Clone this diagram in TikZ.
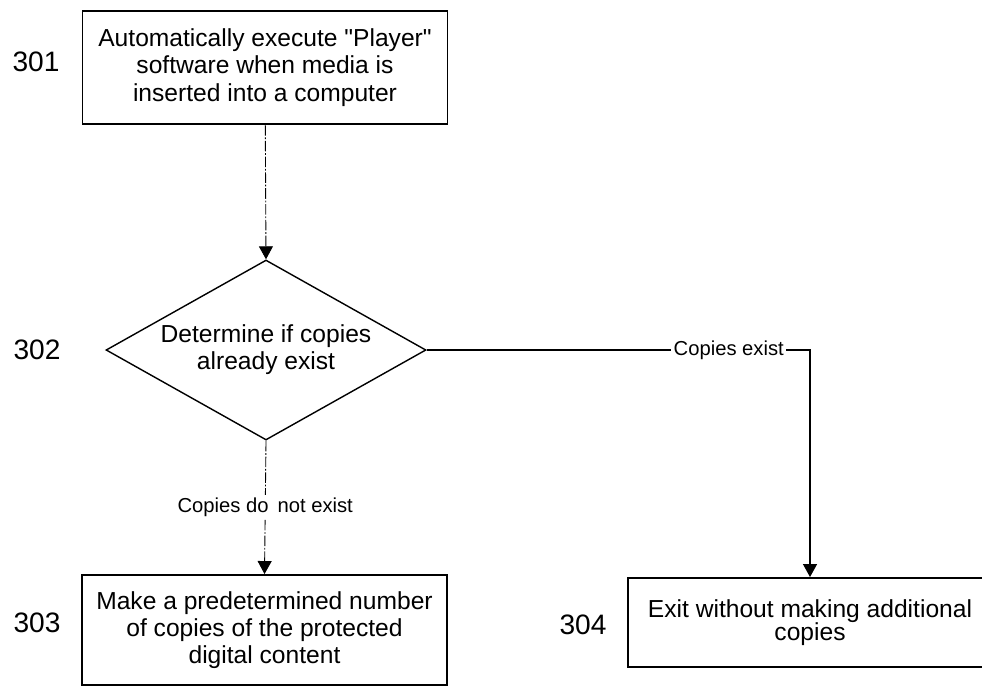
\documentclass[tikz,border=0pt]{standalone}
\usepackage{fontspec}
\setmainfont{Liberation Sans}[Ligatures=TeXOff]
\usepackage{tikz}
\usetikzlibrary{shapes.geometric, arrows.meta, positioning, calc}

\begin{document}
\begin{tikzpicture}[
    stepbox/.style={draw, line width=1.1pt, minimum width=7.3cm, minimum height=2.2cm,
                    align=center, font=\fontsize{14}{15.5}\selectfont, inner sep=2pt},
    decision/.style={draw, diamond, line width=0.8pt, minimum width=6.4cm,
                     minimum height=3.6cm, inner sep=0pt},
    num/.style={font=\fontsize{16}{18}\selectfont},
    lbl/.style={fill=white, font=\fontsize{11.5}{13}\selectfont, inner sep=1.5pt},
    arr/.style={-{Triangle[length=0.26cm, width=0.28cm]}, line width=0.7pt},
    faint/.style={dash pattern=on 6pt off 1pt on 1pt off 1pt, line width=0.5pt},
]
    \useasboundingbox (0,0) rectangle (19.64,-13.76);

    \node[stepbox, minimum height=2.26cm] (run) at (5.3,-1.35)
        {Automatically execute "Player"\\software when media is\\inserted into a computer};
    \node[decision] (chk) at (5.32,-7.0) {};
    \node[align=center, font=\fontsize{14}{15.5}\selectfont] (chktxt) at (chk.center)
        {Determine if copies\\already exist};
    \node[stepbox] (make) at (5.29,-12.6)
        {Make a predetermined number\\of copies of the protected\\digital content};
    \node[stepbox, minimum width=7.28cm, minimum height=1.78cm,
          font=\fontsize{14}{13.5}\selectfont] (exit) at (16.2,-12.45)
        {Exit without making additional\\copies};

    % step numbers
    \node[num] (n301) at (0.72,-1.24)  {301};
    \node[num] (n302) at (0.74,-7.0)   {302};
    \node[num] (n303) at (0.74,-12.46) {303};
    \node[num] (n304) at (11.66,-12.5) {304};

    \draw[arr, faint] (run) -- (chk.north);
    \draw[arr, faint] (chk.south) -- node[lbl] {Copies do \,not exist} (make.north);
    \draw[arr] (chk.east) -| node[lbl, pos=0.394] {Copies exist} (exit.north);
\end{tikzpicture}
\end{document}
